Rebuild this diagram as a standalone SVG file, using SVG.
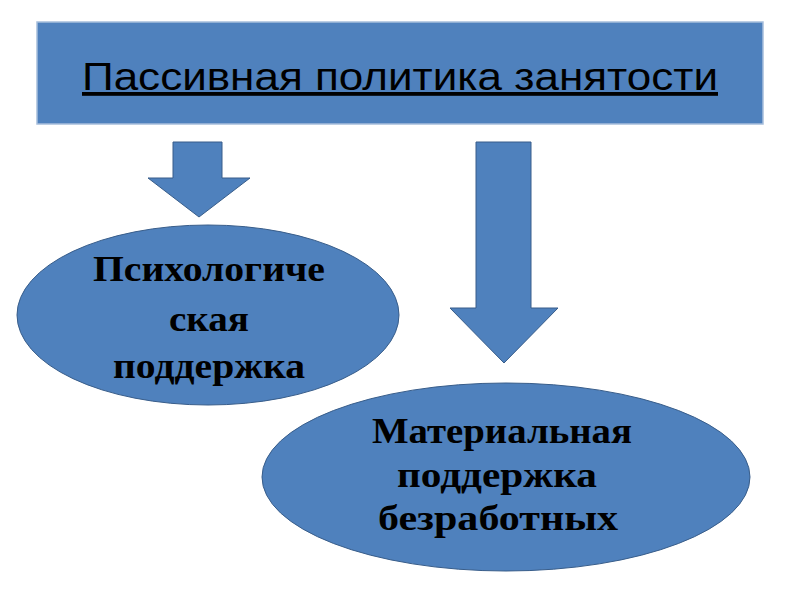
<svg xmlns="http://www.w3.org/2000/svg" width="800" height="600" viewBox="0 0 800 600">
<style>
.shape{fill:#4F81BD;stroke:#385D8A;stroke-width:1}
.title{font-family:"Liberation Sans",Arial,sans-serif;font-size:38px;fill:#000;text-decoration:underline;text-anchor:middle}
.lbl{font-family:"Liberation Serif","Times New Roman",serif;font-size:35px;font-weight:bold;fill:#000;text-anchor:middle}
</style>
<rect width="800" height="600" fill="#fff"/>
<g id="title-node">
<rect x="37" y="22" width="726" height="102" fill="#4F81BD" stroke="#A7BEDC" stroke-width="1.5"/>
<text class="title" x="400" y="90" textLength="636" lengthAdjust="spacingAndGlyphs">Пассивная политика занятости</text>
</g>
<g id="connectors">
<polygon class="shape" points="173,142 222,142 222,178 250,178 199,217 148,178 173,178"/>
<polygon class="shape" points="476,142 531,142 531,308 558,308 504,363 450,308 476,308"/>
</g>
<g id="psych-node">
<ellipse class="shape" cx="208" cy="315" rx="191" ry="90"/>
<text class="lbl" x="209" y="281" textLength="232" lengthAdjust="spacingAndGlyphs">Психологиче</text>
<text class="lbl" x="209" y="331" textLength="80" lengthAdjust="spacingAndGlyphs">ская</text>
<text class="lbl" x="209" y="378" textLength="192" lengthAdjust="spacingAndGlyphs">поддержка</text>
</g>
<g id="material-node">
<ellipse class="shape" cx="506" cy="477" rx="244" ry="94"/>
<text class="lbl" x="502" y="443" textLength="260" lengthAdjust="spacingAndGlyphs">Материальная</text>
<text class="lbl" x="497" y="487" textLength="200" lengthAdjust="spacingAndGlyphs">поддержка</text>
<text class="lbl" x="498" y="530" textLength="240" lengthAdjust="spacingAndGlyphs">безработных</text>
</g>
</svg>
